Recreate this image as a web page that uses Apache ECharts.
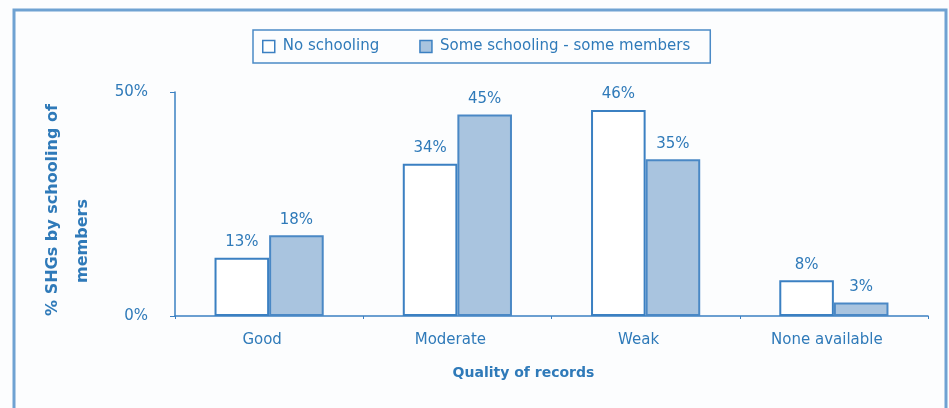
<!DOCTYPE html>
<html>
<head>
<meta charset="utf-8">
<script src="https://cdn.jsdelivr.net/npm/echarts@6/dist/echarts.min.js"></script>
<style>
  html, body { margin: 0; padding: 0; background: #fcfdfe; }
  #chart { width: 949px; height: 408px; }
</style>
</head>
<body>
<div id="chart"></div>
<script>
// Record quality by schooling of members
const categories = ['Good', 'Moderate', 'Weak', 'None available'];
const noSchooling = [13, 34, 46, 8];
const someSchooling = [18, 45, 35, 3];
const yTicks = [0, 50];
const yTitleLines = ['% SHGs by schooling of', 'members'];

const blue = '#3b80c2';
const textBlue = '#2f7ab9';
const font = 'DejaVu Sans, sans-serif';

const chart = echarts.init(document.getElementById('chart'));
chart.setOption({
  animation: false,
  backgroundColor: '#fcfdfe',
  graphic: [
    {
      type: 'rect',
      shape: { x: 14, y: 10, width: 932, height: 420 },
      style: { fill: 'none', stroke: '#6fa2d2', lineWidth: 3 },
      silent: true
    },
    {
      type: 'text',
      x: 53, y: 210, rotation: Math.PI / 2,
      style: { text: yTitleLines[0], fill: textBlue, font: 'bold 16px DejaVu Sans, sans-serif', align: 'center', verticalAlign: 'middle' },
      silent: true
    },
    {
      type: 'text',
      x: 83, y: 241, rotation: Math.PI / 2,
      style: { text: yTitleLines[1], fill: textBlue, font: 'bold 16px DejaVu Sans, sans-serif', align: 'center', verticalAlign: 'middle' },
      silent: true
    }
  ],
  legend: {
    left: 253,
    top: 30,
    padding: [9, 20, 9, 9],
    itemGap: 40,
    itemWidth: 12,
    itemHeight: 12,
    icon: 'rect',
    borderColor: '#4b8ac6',
    borderWidth: 1.5,
    textStyle: { color: textBlue, fontFamily: font, fontSize: 15, padding: [0, 0, 0, 3] },
    data: [
      { name: 'No schooling', itemStyle: { color: '#ffffff', borderColor: blue, borderWidth: 1.5 } },
      { name: 'Some schooling - some members', itemStyle: { color: '#a9c4df', borderColor: blue, borderWidth: 1.5 } }
    ]
  },
  grid: { left: 175, right: 21, top: 92, bottom: 92, containLabel: false },
  xAxis: {
    type: 'category',
    data: categories,
    name: 'Quality of records',
    nameLocation: 'middle',
    nameGap: 50,
    nameTextStyle: { color: textBlue, fontFamily: font, fontSize: 14, fontWeight: 'bold', padding: [0, 56, 0, 0] },
    axisLine: { lineStyle: { color: blue, width: 1.5 } },
    axisTick: { show: true, length: 3, lineStyle: { color: blue } },
    axisLabel: { color: textBlue, fontFamily: font, fontSize: 15, margin: 17, padding: [0, 14, 0, 0] }
  },
  yAxis: {
    type: 'value',
    min: yTicks[0],
    max: yTicks[yTicks.length - 1],
    interval: 50,
    splitLine: { show: false },
    axisLine: { show: true, lineStyle: { color: blue, width: 1.5 } },
    axisTick: { show: true, length: 5, lineStyle: { color: blue } },
    axisLabel: { color: textBlue, fontFamily: font, fontSize: 15, margin: 27, formatter: v => v + '%' }
  },
  series: [
    {
      name: 'No schooling',
      type: 'bar',
      data: noSchooling,
      barGap: '0%',
      barCategoryGap: '42%',
      itemStyle: { color: '#ffffff', borderColor: blue, borderWidth: 2 },
      label: { show: true, position: 'top', distance: 8, color: textBlue, fontFamily: font, fontSize: 15, formatter: p => p.value + '%' }
    },
    {
      name: 'Some schooling - some members',
      type: 'bar',
      data: someSchooling,
      itemStyle: { color: '#a9c4df', borderColor: '#4a88c5', borderWidth: 2 },
      label: { show: true, position: 'top', distance: 8, color: textBlue, fontFamily: font, fontSize: 15, formatter: p => p.value + '%' }
    }
  ]
});
</script>
</body>
</html>
